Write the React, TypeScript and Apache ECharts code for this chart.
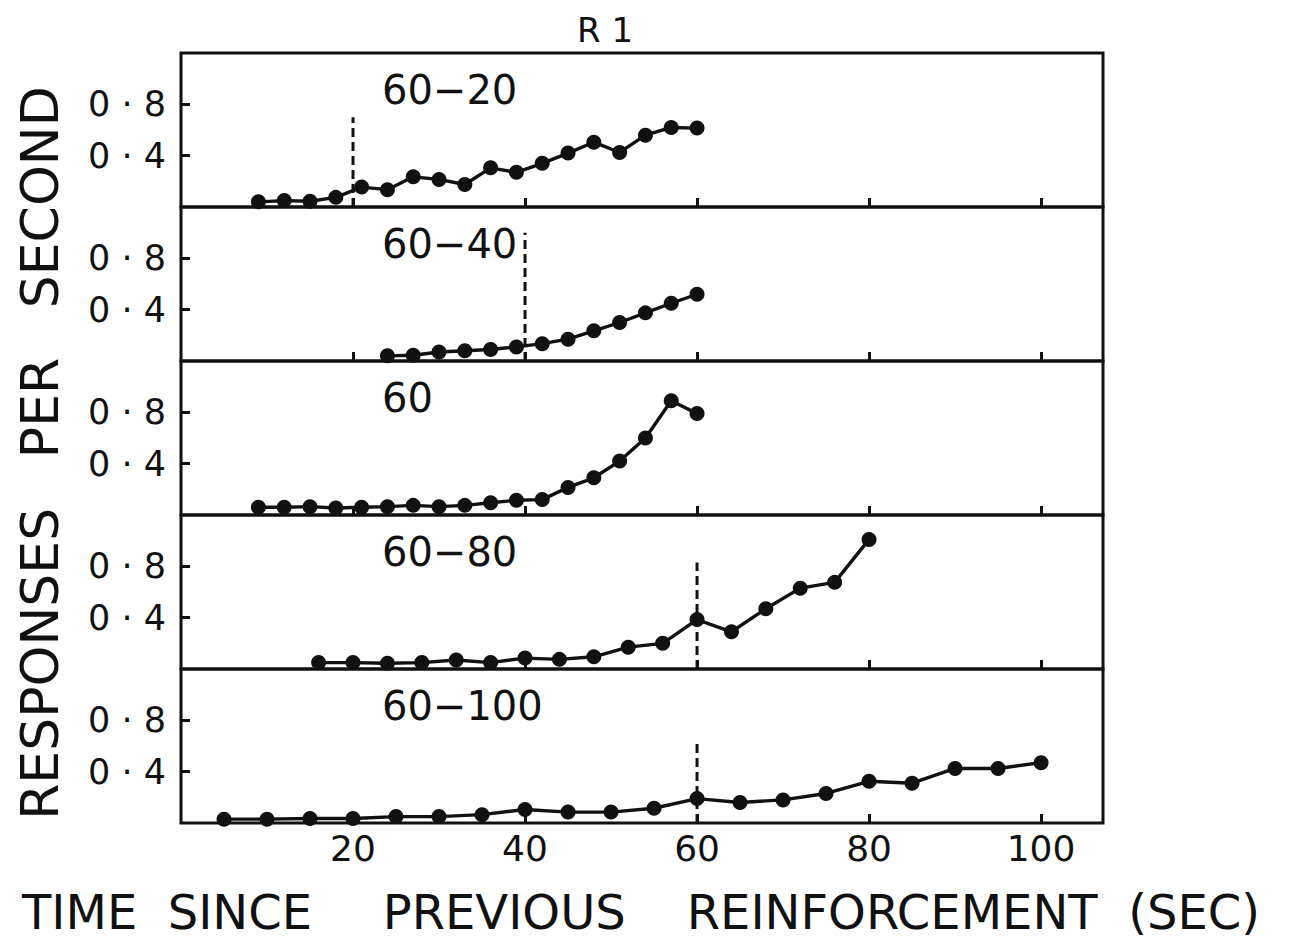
import React, { useEffect, useRef } from "react";
import * as echarts from "echarts";

// ---- data ----
const panelLabels = ["60−20", "60−40", "60", "60−80", "60−100"];

const x1 = [9, 12, 15, 18, 21, 24, 27, 30, 33, 36, 39, 42, 45, 48, 51, 54, 57, 60];
const y1 = [0.04, 0.05, 0.045, 0.075, 0.155, 0.135, 0.235, 0.215, 0.175, 0.305, 0.27, 0.34, 0.42, 0.505, 0.425, 0.56, 0.62, 0.615];

const x2 = [24, 27, 30, 33, 36, 39, 42, 45, 48, 51, 54, 57, 60];
const y2 = [0.04, 0.045, 0.07, 0.08, 0.09, 0.11, 0.135, 0.17, 0.235, 0.3, 0.375, 0.45, 0.52];

const x3 = [9, 12, 15, 18, 21, 24, 27, 30, 33, 36, 39, 42, 45, 48, 51, 54, 57, 60];
const y3 = [0.06, 0.06, 0.065, 0.055, 0.06, 0.065, 0.075, 0.065, 0.075, 0.095, 0.115, 0.12, 0.215, 0.29, 0.42, 0.6, 0.89, 0.79];

const x4 = [16, 20, 24, 28, 32, 36, 40, 44, 48, 52, 56, 60, 64, 68, 72, 76, 80];
const y4 = [0.05, 0.05, 0.045, 0.05, 0.07, 0.05, 0.085, 0.075, 0.095, 0.17, 0.2, 0.385, 0.29, 0.47, 0.63, 0.675, 1.01];

const x5 = [5, 10, 15, 20, 25, 30, 35, 40, 45, 50, 55, 60, 65, 70, 75, 80, 85, 90, 95, 100];
const y5 = [0.03, 0.03, 0.035, 0.035, 0.05, 0.05, 0.065, 0.105, 0.085, 0.085, 0.115, 0.19, 0.16, 0.18, 0.23, 0.325, 0.31, 0.425, 0.425, 0.47];

const panelX = [x1, x2, x3, x4, x5];
const panelY = [y1, y2, y3, y4, y5];

// dashed marker (time of change) and its top value per panel
const dashX = [20, 40, null, 60, 60];
const dashTop = [0.7, 1.0, null, 0.83, 0.65];

const xTicks = [20, 40, 60, 80, 100];
const yTicks = [0.4, 0.8];

const xTitle =
  "TIME\u00a0\u00a0SINCE\u00a0\u00a0\u00a0\u00a0\u2009PREVIOUS\u00a0\u00a0\u00a0\u00a0REINFORCEMENT\u00a0\u00a0(SEC)";
const yTitle = "RESPONSES\u00a0\u00a0\u00a0PER\u00a0\u00a0\u00a0SECOND";
const topTitle = "R\u00a01";

// ---- layout ----
const GRID_LEFT = 181;
const GRID_WIDTH = 922;
const GRID_TOP0 = 53;
const GRID_H = 154;
const FONT = "'DejaVu Sans', sans-serif";
const INK = "#111";

export default function App() {
  const ref = useRef<HTMLDivElement>(null);

  useEffect(() => {
    if (!ref.current) return;
    const chart = echarts.init(ref.current, undefined, { renderer: "svg" });

    const grids: any[] = [];
    const xAxes: any[] = [];
    const yAxes: any[] = [];
    const series: any[] = [];
    const graphics: any[] = [];

    for (let i = 0; i < 5; i++) {
      const top = GRID_TOP0 + i * GRID_H;
      grids.push({
        left: GRID_LEFT,
        top,
        width: GRID_WIDTH,
        height: GRID_H,
        show: true,
        borderColor: INK,
        borderWidth: 3,
        backgroundColor: "transparent",
      });
      xAxes.push({
        gridIndex: i,
        type: "value",
        min: 0,
        max: 107.2,
        splitLine: { show: false },
        axisLine: { show: false },
        axisTick: {
          show: true,
          inside: true,
          length: 9,
          customValues: xTicks,
          lineStyle: { color: INK, width: 3 },
        },
        axisLabel: {
          show: i === 4,
          customValues: xTicks,
          fontFamily: FONT,
          fontSize: 36,
          color: INK,
          margin: 7,
        },
      });
      yAxes.push({
        gridIndex: i,
        type: "value",
        min: 0,
        max: 1.2,
        interval: 0.4,
        splitLine: { show: false },
        axisLine: { show: false },
        axisTick: {
          show: true,
          inside: true,
          length: 9,
          customValues: yTicks,
          lineStyle: { color: INK, width: 3 },
        },
        axisLabel: {
          show: true,
          customValues: yTicks,
          formatter: (v: number) => "0 · " + Math.round(v * 10),
          fontFamily: FONT,
          fontSize: 35,
          color: INK,
          margin: 15,
        },
      });
      series.push({
        type: "line",
        xAxisIndex: i,
        yAxisIndex: i,
        data: panelX[i].map((x, k) => [x, panelY[i][k]]),
        symbol: "circle",
        symbolSize: 15,
        itemStyle: { color: INK },
        lineStyle: { color: INK, width: 3.4 },
        z: 3,
      });
      if (dashX[i] !== null) {
        series.push({
          type: "line",
          xAxisIndex: i,
          yAxisIndex: i,
          data: [
            [dashX[i], 0],
            [dashX[i], dashTop[i]],
          ],
          symbol: "none",
          lineStyle: { color: INK, width: 3, type: [9, 5] },
          z: 2,
        });
      }
      graphics.push({
        type: "text",
        x: 382,
        y: top + 37,
        style: {
          text: panelLabels[i],
          fontFamily: FONT,
          fontSize: 40,
          fill: INK,
          textAlign: "left",
          textVerticalAlign: "middle",
        },
      });
    }

    graphics.push({
      type: "text",
      x: 605,
      y: 30,
      style: {
        text: topTitle,
        fontFamily: FONT,
        fontSize: 34,
        fill: INK,
        textAlign: "center",
        textVerticalAlign: "middle",
      },
    });
    graphics.push({
      type: "text",
      x: 22,
      y: 912,
      style: {
        text: xTitle,
        fontFamily: FONT,
        fontSize: 48,
        fill: INK,
        textAlign: "left",
        textVerticalAlign: "middle",
      },
    });
    graphics.push({
      type: "text",
      x: 40,
      y: 453,
      rotation: Math.PI / 2,
      style: {
        text: yTitle,
        fontFamily: FONT,
        fontSize: 52,
        fill: INK,
        textAlign: "center",
        textVerticalAlign: "middle",
      },
    });

    chart.setOption({
      animation: false,
      backgroundColor: "#ffffff",
      grid: grids,
      xAxis: xAxes,
      yAxis: yAxes,
      series,
      graphic: graphics,
    });

    return () => chart.dispose();
  }, []);

  return (
    <div
      ref={ref}
      style={{ position: "fixed", left: 0, top: 0, width: 1303, height: 945, background: "#fff" }}
    />
  );
}
